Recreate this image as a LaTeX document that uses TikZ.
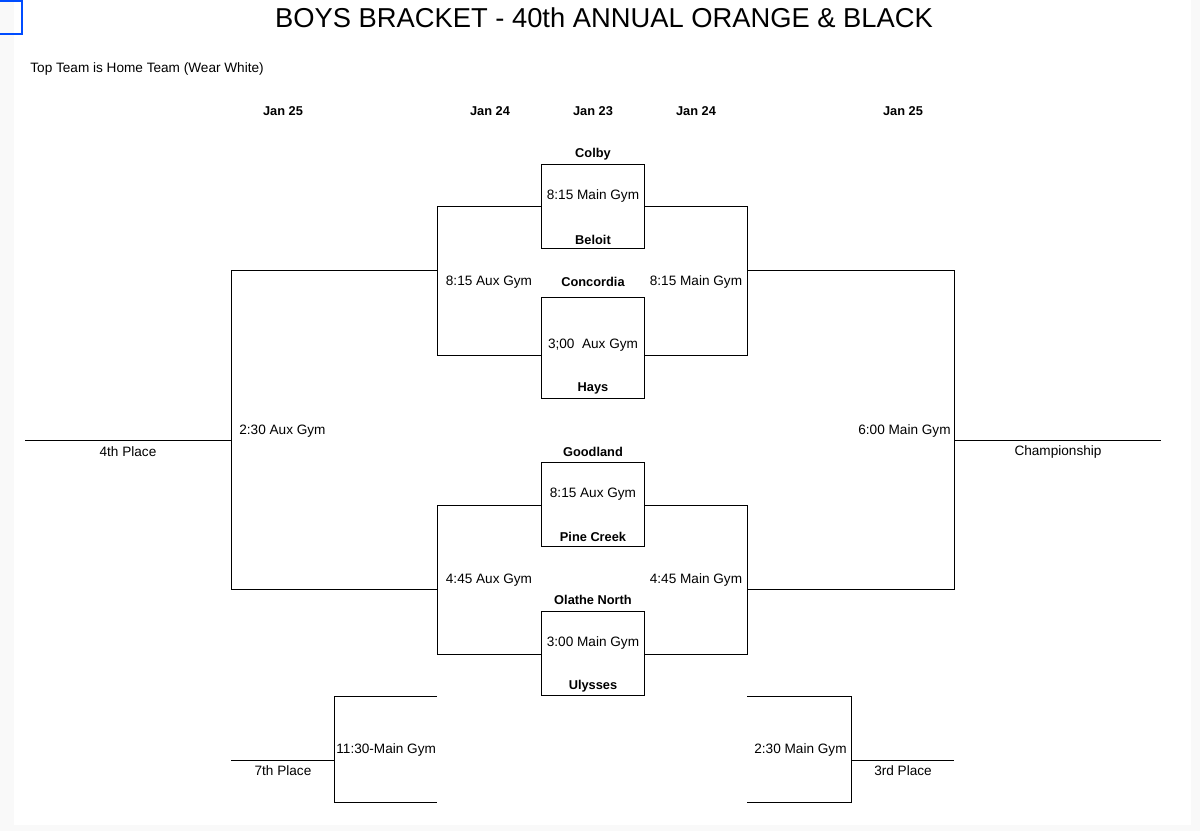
\documentclass[tikz,border=0pt]{standalone}
\usepackage{fontspec}
\setmainfont{Liberation Sans}
\begin{document}
\begin{tikzpicture}[x=0.75pt,y=-0.75pt,line width=0.6pt,
  lbl/.style={font=\fontsize{10.2}{12}\selectfont,inner sep=0pt},
  blbl/.style={font=\fontsize{9.6}{12}\selectfont\bfseries,inner sep=0pt}]
\fill[gray!5] (0,0) rectangle (1200,831);
\fill[white] (14,0) rectangle (1191,825);
\useasboundingbox (0,0) rectangle (1200,831);
\draw[blue!70!cyan,line width=2pt] (-2,1) rectangle (22,34);
\node[font=\fontsize{20.5}{24}\selectfont] (title) at (604,18) {BOYS BRACKET - 40th ANNUAL ORANGE \& BLACK};
\node[font=\fontsize{10.2}{12}\selectfont,anchor=west,inner sep=0pt] (note) at (30,69) {Top Team is Home Team (Wear White)};
% dates
\node[blbl] (d1) at (283,111) {Jan 25};
\node[blbl] (d2) at (490,111) {Jan 24};
\node[blbl] (d3) at (593,111) {Jan 23};
\node[blbl] (d4) at (696,111) {Jan 24};
\node[blbl] (d5) at (903,111) {Jan 25};
% first round boxes
\draw (541,164) rectangle (644,248);
\draw (541,297) rectangle (644,398);
\draw (541,462) rectangle (644,546);
\draw (541,611) rectangle (644,695);
\node[blbl] (t1) at (593,154) {Colby};
\node[blbl] (t2) at (593,240) {Beloit};
\node[blbl] (t3) at (593,282) {Concordia};
\node[blbl] (t4) at (593,388) {Hays};
\node[blbl] (t5) at (593,452) {Goodland};
\node[blbl] (t6) at (593,537) {Pine Creek};
\node[blbl] (t7) at (593,600) {Olathe North};
\node[blbl] (t8) at (593,686) {Ulysses};
\node[lbl] (g1) at (593,196) {8:15 Main Gym};
\node[lbl] (g2) at (593,345) {3;00\ \ Aux Gym};
\node[lbl] (g3) at (593,494) {8:15 Aux Gym};
\node[lbl] (g4) at (593,643) {3:00 Main Gym};
% second round
\draw (541,206) -- (437,206) -- (437,355) -- (541,355);
\draw (644,206) -- (747,206) -- (747,355) -- (644,355);
\draw (541,505) -- (437,505) -- (437,654) -- (541,654);
\draw (644,505) -- (747,505) -- (747,654) -- (644,654);
\node[lbl] (q1) at (489,282) {8:15 Aux Gym};
\node[lbl] (q2) at (489,580) {4:45 Aux Gym};
\node[lbl] (q3) at (696,282) {8:15 Main Gym};
\node[lbl] (q4) at (696,580) {4:45 Main Gym};
% semis
\draw (437,270) -- (231,270) -- (231,589) -- (437,589);
\draw (747,270) -- (954,270) -- (954,589) -- (747,589);
\draw (25,440) -- (231,440);
\draw (954,440) -- (1161,440);
\node[lbl,anchor=west] (s1) at (239,431) {2:30 Aux Gym};
\node[lbl,anchor=east] (s2) at (951,431) {6:00 Main Gym};
\node[lbl] (p4) at (128,452) {4th Place};
\node[lbl] (ch) at (1058,452) {Championship};
% consolation
\draw (437,696) -- (334,696) -- (334,802) -- (437,802);
\draw (231,760) -- (334,760);
\draw (747,696) -- (851,696) -- (851,802) -- (747,802);
\draw (851,760) -- (954,760);
\node[lbl,anchor=west] (c1) at (336,750) {11:30-Main Gym};
\node[lbl] (p7) at (283,771) {7th Place};
\node[lbl,anchor=east] (c2) at (847,750) {2:30 Main Gym};
\node[lbl] (p3) at (903,771) {3rd Place};
\end{tikzpicture}
\end{document}
